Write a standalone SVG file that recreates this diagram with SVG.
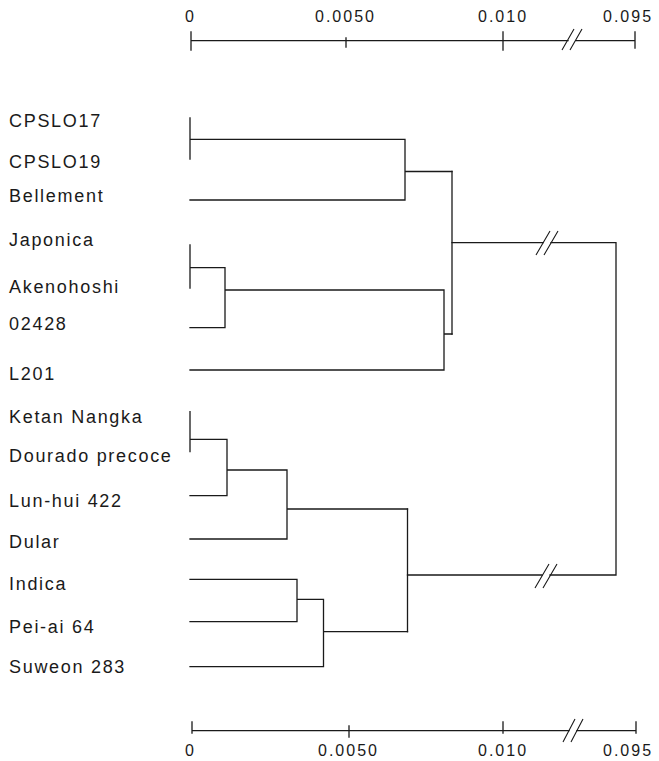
<svg xmlns="http://www.w3.org/2000/svg" width="659" height="761" viewBox="0 0 659 761">
<style>
  .lbl { font-family: "Liberation Sans", Arial, sans-serif; font-size: 18px; letter-spacing: 1.7px; fill: #1a1a1a; }
  .ax { font-family: "Liberation Sans", Arial, sans-serif; font-size: 16px; letter-spacing: 2px; fill: #1a1a1a; }
  .ln { fill: none; stroke: #1a1a1a; stroke-width: 1.3; stroke-linecap: square; }
  .brk { fill: none; stroke: #1a1a1a; stroke-width: 1.1; }
</style>
<rect width="659" height="761" fill="#ffffff"/>

<g id="axis-top">
  <path class="ln" d="M191,40.7 H568 M576,40.7 H635 M191,32 V50 M346,38 V47 M503,32 V50 M635,32 V48"/>
  <path class="brk" d="M562,50 L574,29 M570,50 L582,29"/>
  <text class="ax" x="185" y="22">0</text>
  <text class="ax" x="315" y="22">0.0050</text>
  <text class="ax" x="478" y="22">0.010</text>
  <text class="ax" x="603" y="22">0.095</text>
</g>

<g id="axis-bottom">
  <path class="ln" d="M192,730.7 H569 M577,730.7 H636 M192,722 V733 M349,726 V737 M503,722 V733 M636,722 V733"/>
  <path class="brk" d="M563,742 L575,719 M571,742 L583,719"/>
  <text class="ax" x="185" y="756">0</text>
  <text class="ax" x="318" y="756">0.0050</text>
  <text class="ax" x="478" y="756">0.010</text>
  <text class="ax" x="603" y="756">0.095</text>
</g>

<g id="leaf-CPSLO17"><text class="lbl" x="9" y="127">CPSLO17</text></g>
<g id="leaf-CPSLO19"><text class="lbl" x="9" y="168">CPSLO19</text></g>
<g id="leaf-Bellement"><text class="lbl" x="9" y="202">Bellement</text></g>
<g id="leaf-Japonica"><text class="lbl" x="9" y="246">Japonica</text></g>
<g id="leaf-Akenohoshi"><text class="lbl" x="9" y="293">Akenohoshi</text></g>
<g id="leaf-02428"><text class="lbl" x="9" y="330">02428</text></g>
<g id="leaf-L201"><text class="lbl" x="9" y="380">L201</text></g>
<g id="leaf-KetanNangka"><text class="lbl" x="9" y="423">Ketan Nangka</text></g>
<g id="leaf-DouradoPrecoce"><text class="lbl" x="9" y="462">Dourado precoce</text></g>
<g id="leaf-Lunhui422"><text class="lbl" x="9" y="507">Lun-hui 422</text></g>
<g id="leaf-Dular"><text class="lbl" x="9" y="548">Dular</text></g>
<g id="leaf-Indica"><text class="lbl" x="9" y="590">Indica</text></g>
<g id="leaf-Peiai64"><text class="lbl" x="9" y="633">Pei-ai 64</text></g>
<g id="leaf-Suweon283"><text class="lbl" x="9" y="673">Suweon 283</text></g>

<g id="connectors">
  <!-- Cluster: CPSLO17 / CPSLO19 / Bellement -->
  <path class="ln" d="M190,118 V159 M190,139.3 H405 M190,200 H405 M405,139.3 V200 M405,171.5 H452"/>
  <!-- Cluster: Japonica / Akenohoshi / 02428 / L201 -->
  <path class="ln" d="M190,245 V288 M190,267.7 H225 M190,327.7 H225 M225,267.7 V327.7 M225,290 H444 M190,370 H444 M444,290 V370 M444,334 H452"/>
  <path class="ln" d="M452,171.5 V334"/>
  <!-- Cluster: Ketan Nangka / Dourado precoce / Lun-hui 422 / Dular -->
  <path class="ln" d="M190,411.7 V451.7 M190,439.3 H227 M190,495.7 H227 M227,439.3 V495.7 M227,470 H287 M190,539 H287 M287,470 V539 M287,509 H407.5"/>
  <!-- Cluster: Indica / Pei-ai 64 / Suweon 283 -->
  <path class="ln" d="M190,579.3 H297 M190,621.7 H297 M297,579.3 V621.7 M297,599.3 H323.5 M190,666.7 H323.5 M323.5,599.3 V666.7 M323.5,631.7 H407.5"/>
  <path class="ln" d="M407.5,509 V631.7"/>
  <!-- Root join with breaks -->
  <path class="ln" d="M452,242.7 H543 M551,242.7 H616 V575 H550 M542,575 H407.5"/>
  <path class="brk" d="M536,255 L550,231 M544,255 L558,231"/>
  <path class="brk" d="M535,588 L549,564 M543,588 L557,564"/>
</g>
</svg>
